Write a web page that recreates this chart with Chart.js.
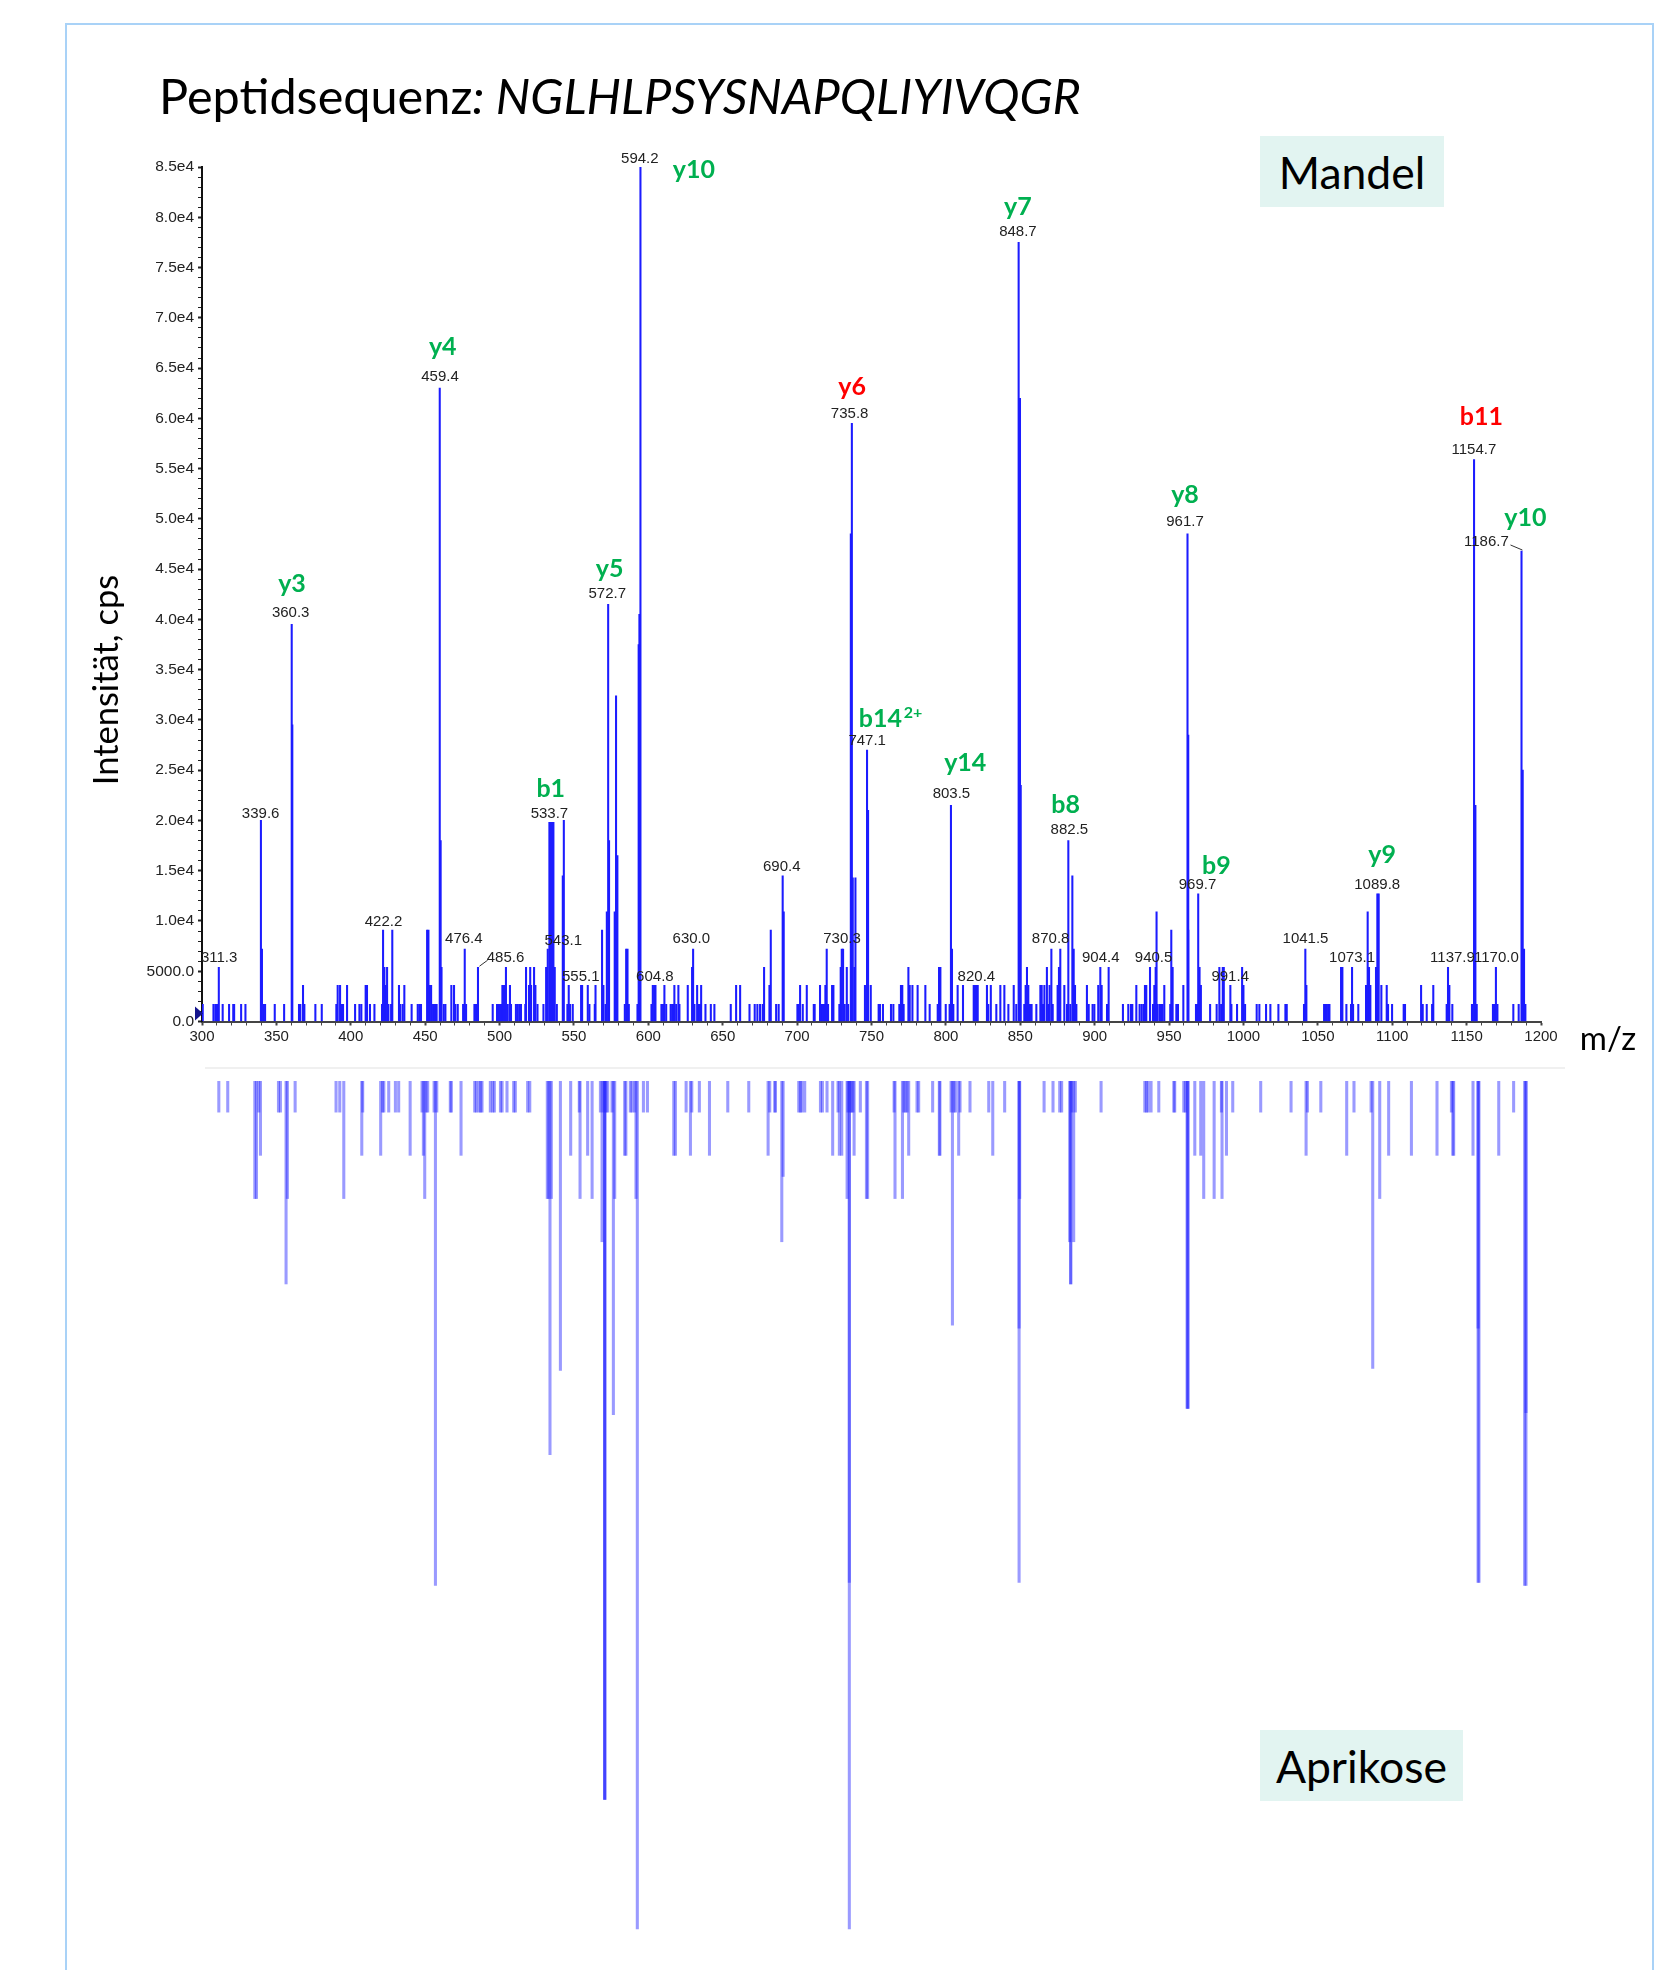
<!DOCTYPE html>
<html><head><meta charset="utf-8">
<script src="https://cdn.jsdelivr.net/npm/chart.js@4"></script>
<style>
html,body{margin:0;padding:0;background:#fff;}
body{position:relative;width:1673px;height:1970px;overflow:hidden;font-family:Lato,sans-serif;}
#frame{position:absolute;left:65px;top:23px;width:1589px;height:2000px;border:2px solid #a9d2f7;box-sizing:border-box;}
#rule{position:absolute;left:205px;top:1067px;width:1360px;height:2px;background:#f0f0f0;}
#title{position:absolute;left:159px;top:65px;font-size:48.6px;line-height:60px;color:#000;white-space:nowrap;}
.box{position:absolute;background:#e2f4f1;color:#000;font-size:44.5px;line-height:71px;height:71px;text-align:center;}
canvas{position:absolute;left:0;}
#topChart{top:0;}
#bottomChart{top:1081px;}
</style></head><body>
<div id="frame"></div>
<div id="rule"></div>
<div id="title">Peptidsequenz<i>: NGLHLPSYSNAPQLIYIVQGR</i></div>
<div class="box" style="left:1260px;top:136px;width:184px">Mandel</div>
<div class="box" style="left:1260px;top:1730px;width:203px">Aprikose</div>
<canvas id="topChart" width="1673" height="1100"></canvas>
<canvas id="bottomChart" width="1673" height="889"></canvas>
<script>
// ---------- Mandel (upper spectrum): m/z values grouped by the quantised small intensities ----------
const topMz1700=[300.5,307.7,309,310.1,313.9,318.2,321,321.6,326.3,329.2,341.5,342.4,348.9,355.2,365.2,366.1,368.8,376.2,380.5,390.3,393.9,394.8,402.9,405.8,407.1,412.9,415.9,421,425.3,427.1,433.3,434.9,440.9,445,446.1,447.2,455.3,456.6,457.7,462.5,463.6,470.3,471.9,475.5,477.5,483.1,484.2,495.4,498.3,499.2,500.1,501,505.5,507.7,511,512.2,513.3,514.4,517.3,525.5,529.5,538.5,545.6,547.4,549.2,560.4,564,571.2,584.2,586.9,592.7,602.1,608.8,609.9,612,615,616,616.9,618.7,620.9,631,633.9,634.8,638.4,642,644.4,655.4,668,671.5,673.3,675.1,676.9,685.9,687.6,700.2,701.1,703.8,711.2,711.8,716.3,717.2,718.1,720.8,728.4,732,734.3,754.8,755.7,757.7,763.1,764.7,768.7,771.6,789.1,794.5,799.9,802.5,805,828.5,833.9,842,847.3,852.7,856.5,857.6,860.8,865.3,868.8,871.8,881.4,883.6,887.7,896,898.6,899.8,908.3,919,922.6,924.4,925.3,930.2,931.6,932.9,939.2,942.3,943.7,944.6,945.6,950.8,954.9,956,968.1,969.2,977.6,982,985,991.9,995.7,1001.1,1008.9,1010.7,1015.2,1018.1,1023.5,1028.2,1029.1,1040.7,1054.2,1055,1055.9,1056.9,1057.8,1069.2,1072.3,1073.7,1077.2,1083.3,1097.2,1099.9,1107.7,1108.6,1120.5,1123.2,1126.8,1136.6,1140.4,1153.6,1156.8,1167.7,1168.6,1170.7,1181.4,1185,1189.5];
const topMz3600=[367.9,391.2,392.8,397.5,410,410.9,423.5,432.4,436,453,454,467.6,469.4,501.9,502.8,503.7,507,519.8,521.1,521.2,524.1,546.5,554.8,555.5,559.3,564.5,569.8,603,603.9,604.8,610.8,617.5,620.2,626.5,632.8,635.5,659,661.7,681.4,702,706.5,715.4,719,723.5,724.4,745.6,749.5,769.8,770.7,775.7,777.5,781,786.2,807.9,811.5,818.7,819.6,820.5,821.4,827.6,830.2,836.6,839.3,845.6,853.6,855.4,863.5,864.4,866.2,869.7,875.1,879.6,886.8,894.8,902.4,904.7,928,933.8,934.7,940.1,946.8,959.6,971.4,991.2,1000,1042.3,1082.4,1085.3,1092.7,1096.3,1119.4,1127.6,1138.4];
const topMz5400=[311.3,422.6,424.4,461,485.5,504.3,517.8,520.6,523.2,531.3,537.1,629.4,677.8,729.3,733.4,738.5,774.8,795.4,796.3,854.5,867.9,876,903.8,909.4,937.2,941,952.4,970.5,983.8,986.1,986.8,999.1,1065.6,1066.5,1073,1084.4,1089.1,1137.5,1155.5,1169.7];
const topMz7200=[340.3,476.6,532.4,585.1,586,630.1,719.9,730,730.9,804.1,870.9,876.9,885.9,1041.6,1188.6];
const topMz9100=[421.7,427.9,451.3,452.2,568.9,682.3,951.5,962.9];
const topMz10900=[572.1,577.4,691,941.6,1083.5];
const topMajorMz=[339.6,360.3,360.7,459.8,460.4,533.5,534.4,535.3,536.2,542.5,543.2,573,573.6,578.3,579.2,593.5,594,594.7,690.3,736.8,736.1,737.4,739.2,747,747.7,803.4,848.9,849.8,850.3,882.3,885,962.4,962.9,969.6,1090,1090.9,1155,1155.9,1186.9,1187.7];
const topMajorI=[20000,39500,29500,63000,18000,19800,19800,19800,19800,14500,20000,41500,18000,32400,16500,37500,40500,85000,14500,59500,48500,14300,14300,27000,21000,21500,77500,62000,23500,18000,14500,48500,28500,12700,12700,12700,55900,21500,46800,25000];

// ---------- Aprikose (lower mirrored spectrum) ----------
const botMz3100=[311.3,317.3,338.2,351.4,352.7,362.6,390.1,392.6,408,421.3,422.2,425.5,430,432.2,447.9,450.6,451.7,456,457.8,466.9,467.6,483.3,484.4,486.2,487.3,488.2,493.8,495.4,496.5,500.6,501.7,505,509.5,510.6,518.9,520.3,553.6,567.8,569.8,571.6,572.7,575.6,587.9,589,590.8,596.7,599.4,625.4,629.2,634.3,653.4,667.5,681.6,685,685.4,701.1,702.2,703.1,705.1,715.7,717,720.1,727.5,734.2,735.8,736.7,737.6,742.5,765.2,771.7,772.8,773.9,780.6,781.7,791.1,803.5,805.3,806.4,809.5,816.2,828.8,839.5,866,872,876.5,877.8,884.8,887,904.3,933.7,934.8,935.9,937.9,943.1,953.2,953.8,959.9,961,985.2,992.8,1011.6,1032,1043,1052,1074.3,1085.8,1139.8,1181.6];
const botMz7400=[339.3,407.4,420.1,439.9,448.8,474.1,547.8,559.2,584.1,584.9,617.1,618.2,628.3,641.1,680.5,723.9,728.4,730,738.3,775,795.6,796,808.6,831.5,967.3,971.3,988.6,1042.1,1069.4,1097.6,1112.9,1130.1,1140.7,1141.3,1154.3,1171.6];
const botMz11700=[335.5,336.6,357.4,395.3,449.7,532.1,533,534.8,554.1,562.2,577.4,591.7,733.6,746.6,747.4,765.8,770.8,849.6,973.3,980.3,985.6,1091.6];
const botMz16000=[568.9,689.7,883.2,885.9];
const botMajorMz=[356.5,456.9,533.9,540.9,570.7,570.7,570.7,576.5,592.6,690.6,735.1,735.1,849.2,849.2,804.4,883.9,883.9,962.1,962.8,962.5,1086.9,1157.7,1157.7,1158.3,1189,1189.9,1189.9];
const botMajorI=[20200,50200,37200,28800,71500,71500,71500,33200,84400,9500,84400,49900,49900,24600,24300,20200,20200,32600,32600,32600,28600,49900,24600,49900,50200,50200,33000];

// ---------- peak captions, placed in data units (m/z, intensity) ----------
const peakText=["311.3","339.6","360.3","422.2","459.4","476.4","485.6","533.7","543.1","555.1","572.7","594.2","604.8","630.0","690.4","730.3","735.8","747.1","803.5","820.4","848.7","870.8","882.5","904.4","940.5","961.7","969.7","991.4","1041.5","1073.1","1089.8","1137.9","1154.7","1170.0","1186.7"];
const peakTextMz=[311.5,339.4,359.6,422,460,476,504,533.5,542.8,554.6,572.4,594.3,604.4,628.9,689.7,730.2,735.3,747.1,803.7,820.5,848.4,870.4,883,904.1,939.6,960.7,969.1,991.1,1041.7,1073,1089.9,1140.5,1154.9,1170,1163.3];
const peakTextY=[6400,20760,40740,10030,64210,8280,6400,20760,8150,4530,42610,85930,4530,8280,15520,8280,60590,27990,22760,4530,78690,8280,19140,6400,6400,49850,13650,4530,8280,6400,13650,6400,56970,6400,47855];

const ionText=["y3","y4","b1","y5","y10","y6","b14","y14","y7","b8","y8","b9","y9","b11","y10"];
const ionMz=[360.5,461.8,534.4,574,630.6,737,756,813,848.4,880.5,960.7,981.8,1093.2,1159.9,1189.5];
const ionY=[43485,67080,23130,44985,84685,63085,30125,25755,81065,21510,52350,15520,16520,60090,50100];
const ionRed=["y6","b11"];

const leaderMz=[[486.5,492],[1179.5,1187.5]];
const leaderY=[[5500,6100],[47400,46900]];

const xTickStep=10, xMajor=50, yTickStep=1000, yMajor=5000;

function levelRows(mz,v){return mz.map(x=>({x:x,y:v}));}
function rows(mz,vals){return mz.map((x,i)=>({x:x,y:vals[i]}));}
const topPeaks=[].concat(levelRows(topMz1700,1700),levelRows(topMz3600,3600),levelRows(topMz5400,5400),levelRows(topMz7200,7200),levelRows(topMz9100,9100),levelRows(topMz10900,10900),rows(topMajorMz,topMajorI));
const botPeaks=[].concat(levelRows(botMz3100,3100),levelRows(botMz7400,7400),levelRows(botMz11700,11700),levelRows(botMz16000,16000),rows(botMajorMz,botMajorI));

function fmtY(v){
  if(v%yMajor!==0) return '';
  if(v===0) return '0.0';
  if(v<10000) return v.toFixed(1);
  return (v/10000).toFixed(1)+'e4';
}

const overlay={
  id:'overlay',
  afterDraw(chart){
    const c=chart.ctx,x=chart.scales.x,y=chart.scales.y;
    c.save();
    const ox=x.getPixelForValue(300),oy=y.getPixelForValue(0);
    c.fillStyle='#14148c';
    c.beginPath();c.moveTo(ox-7,oy-15);c.lineTo(ox+1,oy-8);c.lineTo(ox-7,oy-1);c.closePath();c.fill();
    c.textAlign='center';c.textBaseline='middle';c.fillStyle='#222';
    c.font='15px "Liberation Sans"';
    peakText.forEach((t,i)=>c.fillText(t,x.getPixelForValue(peakTextMz[i]),y.getPixelForValue(peakTextY[i])+1));
    c.strokeStyle='#333';c.lineWidth=1;
    leaderMz.forEach((m,i)=>{c.beginPath();c.moveTo(x.getPixelForValue(m[0]),y.getPixelForValue(leaderY[i][0]));c.lineTo(x.getPixelForValue(m[1]),y.getPixelForValue(leaderY[i][1]));c.stroke();});
    c.font='bold 25px Lato';
    ionText.forEach((t,i)=>{
      c.fillStyle=ionRed.includes(t)?'#ff0000':'#00b050';
      const px=x.getPixelForValue(ionMz[i]),py=y.getPixelForValue(ionY[i]);
      c.fillText(t,px,py);
      if(t==='b14'){
        const w=c.measureText(t).width;
        c.font='bold 16px Lato';
        c.fillText('2+',px+w/2+11,py-6);
        c.font='bold 25px Lato';
      }
    });
    c.fillStyle='#000';
    c.font='33px Lato';
    c.fillText('m/z',1608,1039);
    c.translate(107,680);c.rotate(-Math.PI/2);
    c.font='34.5px Lato';
    c.fillText('Intensität, cps',0,0);
    c.restore();
  }
};

Chart.defaults.animation=false;
Chart.defaults.responsive=false;
Chart.defaults.devicePixelRatio=1;

new Chart(document.getElementById('topChart'),{
  type:'bar',
  data:{datasets:[{data:topPeaks,backgroundColor:'#1c1cff',barThickness:1.4,grouped:false}]},
  options:{
    layout:{padding:{left:0,right:132,top:167,bottom:38.5}},
    plugins:{legend:{display:false},tooltip:{enabled:false},title:{display:false}},
    scales:{
      x:{type:'linear',min:300,max:1200,offset:false,
        afterFit(s){s.height=40;},
        border:{color:'#444',width:2},
        grid:{offset:false,drawOnChartArea:false,tickLength:4,tickColor:'#444',tickWidth:c=>c.tick&&c.tick.value%xMajor===0?2:1},
        ticks:{stepSize:xTickStep,autoSkip:false,maxRotation:0,padding:2,color:'#222',font:{family:'Liberation Sans',size:15},
          callback:v=>v%xMajor===0?String(v):''}},
      y:{min:0,max:85000,
        afterFit(s){s.width=202;},
        border:{color:'#111',width:2},
        grid:{drawOnChartArea:false,tickLength:4,tickColor:'#222',tickWidth:c=>c.tick&&c.tick.value%yMajor===0?2:1},
        ticks:{stepSize:yTickStep,autoSkip:false,padding:4,color:'#222',font:{family:'Liberation Sans',size:15.5},callback:fmtY}}
    }
  },
  plugins:[overlay]
});

new Chart(document.getElementById('bottomChart'),{
  type:'bar',
  data:{datasets:[{data:botPeaks,backgroundColor:'rgba(30,30,255,0.45)',barThickness:2.4,grouped:false}]},
  options:{
    layout:{padding:{left:202,right:132,top:0,bottom:35}},
    plugins:{legend:{display:false},tooltip:{enabled:false}},
    scales:{
      x:{type:'linear',min:300,max:1200,offset:false,grid:{offset:false},display:false},
      y:{min:0,max:85000,reverse:true,display:false}
    }
  }
});
</script>
</body></html>
